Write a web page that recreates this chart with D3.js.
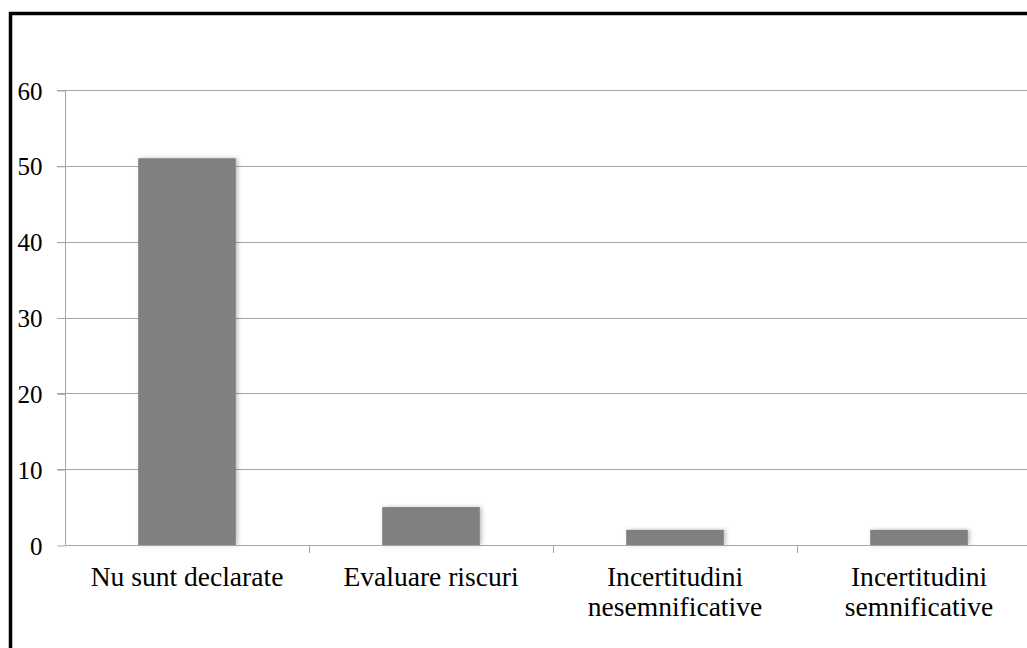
<!DOCTYPE html>
<html><head><meta charset="utf-8">
<script src="https://cdn.jsdelivr.net/npm/d3@7"></script>
<style>body{margin:0;background:#fff;} svg{display:block;}</style>
</head><body>
<svg id="c" width="1027" height="648"></svg>
<script>
const categories = [["Nu sunt declarate"],["Evaluare riscuri"],["Incertitudini","nesemnificative"],["Incertitudini","semnificative"]];
const values = [51, 5, 2, 2];
const yTicks = [0,10,20,30,40,50,60];

const svg = d3.select("#c");
const W = 1027, H = 648;
const x0 = 65, x1 = 1041, yTop = 90, yBot = 545;
const FONT = "'Liberation Serif','Times New Roman',serif";

const defs = svg.append("defs");
const f = defs.append("filter").attr("id","sh").attr("x","-20%").attr("y","-20%").attr("width","140%").attr("height","140%");
f.append("feDropShadow").attr("dx",2).attr("dy",0).attr("stdDeviation",2).attr("flood-color","#000").attr("flood-opacity",0.25);

// border
svg.append("line").attr("x1",9).attr("x2",W).attr("y1",13.5).attr("y2",13.5).attr("stroke","#000").attr("stroke-width",3.5);
svg.append("line").attr("x1",10.5).attr("x2",10.5).attr("y1",12).attr("y2",H).attr("stroke","#000").attr("stroke-width",3.5);

const x = d3.scaleBand().domain(d3.range(categories.length)).range([x0, x1]).paddingInner(0.6).paddingOuter(0.3);
const xb = d3.scaleLinear().domain([0, categories.length]).range([x0, x1]);
const y = d3.scaleLinear().domain([0,60]).range([yBot, yTop]);

// gridlines
svg.append("g").selectAll("line").data(yTicks.filter(d=>d>0)).join("line")
  .attr("x1",x0-8).attr("x2",W).attr("y1",d=>Math.round(y(d))+0.5).attr("y2",d=>Math.round(y(d))+0.5)
  .attr("stroke","#a6a6a6").attr("stroke-width",1);

// y axis
const yAxis = d3.axisLeft(y).tickValues(yTicks).tickSize(8).tickPadding(15);
const gy = svg.append("g").attr("transform",`translate(${x0+0.5},0.5)`).call(yAxis);
gy.select(".domain").attr("stroke","#a6a6a6").attr("d",`M0,${y(60)}V${y(0)}`);
gy.selectAll(".tick line").attr("stroke","#a6a6a6");
gy.selectAll(".tick text").attr("font-family",FONT).attr("font-size",25).attr("fill","#000").attr("dy","0.34em");

// bars
svg.append("g").selectAll("rect").data(values).join("rect")
  .attr("x",(d,i)=>x(i)).attr("width",x.bandwidth())
  .attr("y",d=>y(d)).attr("height",d=>y(0)-y(d))
  .attr("fill","#808080").attr("filter","url(#sh)");

// x axis
svg.append("line").attr("x1",x0).attr("x2",W).attr("y1",yBot+0.5).attr("y2",yBot+0.5).attr("stroke","#a6a6a6");
svg.append("g").selectAll("line").data(d3.range(1,categories.length)).join("line")
  .attr("x1",d=>Math.round(xb(d))+0.5).attr("x2",d=>Math.round(xb(d))+0.5)
  .attr("y1",yBot).attr("y2",yBot+8).attr("stroke","#a6a6a6");

const lab = svg.append("g").selectAll("text").data(categories).join("text")
  .attr("transform",(d,i)=>`translate(${x(i)+x.bandwidth()/2},586) scale(1.04,1)`)
  .attr("text-anchor","middle").attr("font-family",FONT).attr("font-size",26.5).attr("fill","#000");
lab.selectAll("tspan").data(d=>d).join("tspan")
  .attr("x",0).attr("dy",(d,i)=>i===0?0:30).text(d=>d);
</script>
</body></html>
